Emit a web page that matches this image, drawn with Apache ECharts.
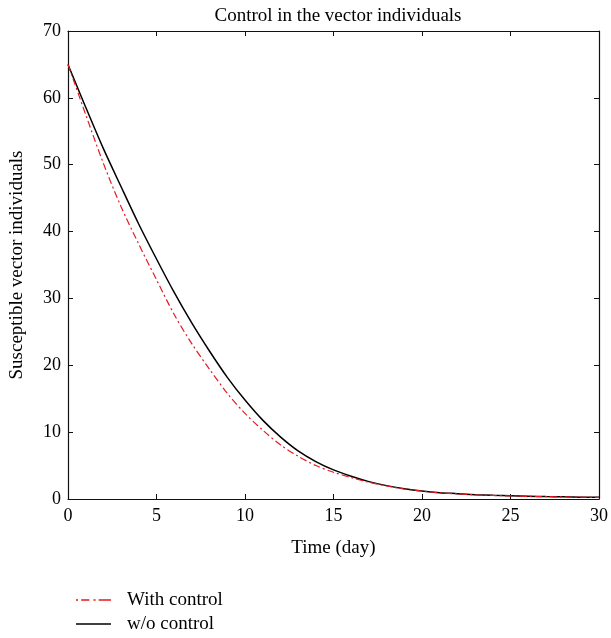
<!DOCTYPE html>
<html>
<head>
<meta charset="utf-8">
<script src="https://cdn.jsdelivr.net/npm/echarts@6/dist/echarts.min.js"></script>
<style>
  html, body { margin: 0; padding: 0; background: #fff; }
  #chart { width: 611px; height: 638px; }
</style>
</head>
<body>
<div id="chart"></div>
<script>
// days
var days = [0, 1, 2, 3, 4, 5, 6, 7, 8, 9, 10, 11, 12, 13, 14, 15, 16, 17, 18, 19, 20,
            21, 22, 23, 24, 25, 26, 27, 28, 29, 30];
// susceptible vectors, with control
var withControl = [65, 57.5, 50.2, 43.7, 38.1, 32.8, 27.6, 23.2, 19.4, 15.8, 12.8, 10.3, 8.1, 6.4, 5.0, 4.0,
                   3.2, 2.5, 1.95, 1.5, 1.18, 0.93, 0.77, 0.63, 0.53, 0.46, 0.4, 0.35, 0.31, 0.27, 0.24];
// susceptible vectors, without control
var noControl = [65, 58.6, 52.4, 46.7, 41.1, 35.9, 30.9, 26.3, 22.1, 18.2, 14.8, 11.8, 9.3, 7.2, 5.6, 4.35,
                 3.4, 2.6, 2.0, 1.55, 1.2, 0.95, 0.8, 0.65, 0.55, 0.48, 0.42, 0.36, 0.32, 0.28, 0.25];

function pairs(ys) {
    return days.map(function (d, i) { return [d, ys[i]]; });
}

var font = '"Liberation Serif", "DejaVu Serif", serif';
var chart = echarts.init(document.getElementById('chart'));

var tickStyle = { show: true, inside: true, length: 5, lineStyle: { color: '#111', width: 1 } };
var boxLine = { show: true, onZero: false, lineStyle: { color: '#111', width: 1.2 } };

// legend icons drawn as little paths (dash-dot and solid)
var dashDotIcon = 'path://M0,0h2v1.5h-2z M5,0h8v1.5h-8z M17,0h2v1.5h-2z M22,0h12v1.5h-12z';
var solidIcon = 'path://M0,0h35v1.5h-35z';

var option = {
    animation: false,
    textStyle: { fontFamily: font },
    title: {
        text: 'Control in the vector individuals',
        left: 333, top: 2, textAlign: 'center',
        textStyle: { fontFamily: font, fontSize: 19, fontWeight: 'normal', color: '#000' }
    },
    grid: { left: 68, right: 12, top: 31, bottom: 139 },
    legend: {
        orient: 'vertical',
        left: 71, top: 585, height: 50,
        itemWidth: 35, itemHeight: 10, itemGap: 4,
        textStyle: { fontFamily: font, fontSize: 19, lineHeight: 20, color: '#000', padding: [0, 0, 0, 11] },
        data: [
            { name: 'With control', icon: dashDotIcon },
            { name: 'w/o control', icon: solidIcon }
        ]
    },
    xAxis: [{
        type: 'value', min: 0, max: 30, interval: 5,
        name: 'Time (day)', nameLocation: 'middle', nameGap: 40,
        nameTextStyle: { fontFamily: font, fontSize: 19, color: '#000' },
        axisLine: boxLine, axisTick: tickStyle, splitLine: { show: false },
        axisLabel: { fontFamily: font, fontSize: 18, color: '#000', margin: 8 }
    }, {
        type: 'value', position: 'top', min: 0, max: 30, interval: 5,
        axisLine: boxLine, axisTick: tickStyle, splitLine: { show: false },
        axisLabel: { show: false }
    }],
    yAxis: [{
        type: 'value', min: 0, max: 70, interval: 10,
        name: 'Susceptible vector individuals', nameLocation: 'middle', nameGap: 41,
        nameTextStyle: { fontFamily: font, fontSize: 19, color: '#000' },
        axisLine: boxLine, axisTick: tickStyle, splitLine: { show: false },
        axisLabel: { fontFamily: font, fontSize: 18, color: '#000', margin: 7 }
    }, {
        type: 'value', position: 'right', min: 0, max: 70, interval: 10,
        axisLine: boxLine, axisTick: tickStyle, splitLine: { show: false },
        axisLabel: { show: false }
    }],
    series: [{
        name: 'With control',
        type: 'line',
        data: pairs(withControl),
        smooth: 0.3,
        symbol: 'none',
        lineStyle: { color: '#e8191f', width: 1.2, type: [7, 3, 2, 3] },
        itemStyle: { color: '#e8191f' },
        z: 3
    }, {
        name: 'w/o control',
        type: 'line',
        data: pairs(noControl),
        smooth: 0.3,
        symbol: 'none',
        lineStyle: { color: '#000', width: 1.5 },
        itemStyle: { color: '#000' },
        z: 2
    }]
};

chart.setOption(option);
</script>
</body>
</html>
